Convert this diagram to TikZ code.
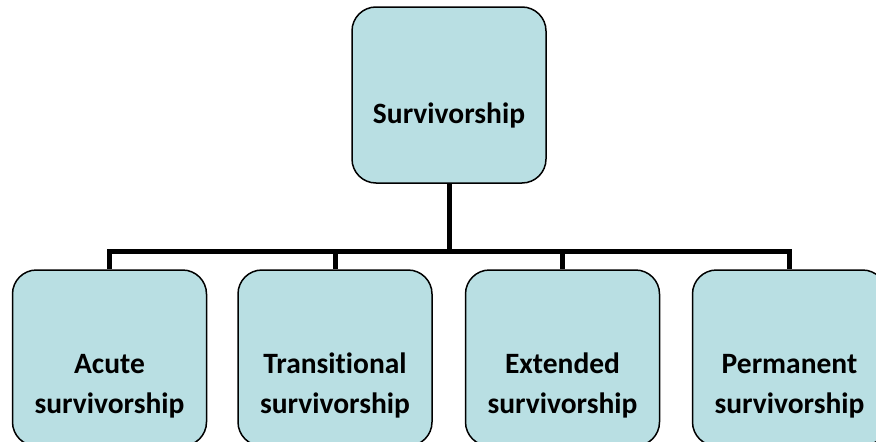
\documentclass[tikz,border=0pt]{standalone}
\usepackage{fontspec}
\setmainfont{Carlito}[RawFeature=-liga]
\definecolor{boxfill}{RGB}{185,223,227}
\begin{document}
\begin{tikzpicture}[x=1pt,y=-1pt,
  box/.style={draw=black, line width=1.5pt, fill=boxfill, rounded corners=24pt,
    minimum width=194pt, minimum height=176pt, inner sep=0pt},
  lbl/.style={font=\bfseries\fontsize{29.5}{40}\selectfont, anchor=base,
    inner sep=0pt, align=center},
  busline/.style={line width=5pt, line join=miter}]
\useasboundingbox (0,0) rectangle (876,442);
\clip (0,0) rectangle (876,442);
\node[box] (top) at (449,95) {};
\node[box] (c1) at (109.5,358) {};
\node[box] (c2) at (335,358) {};
\node[box] (c3) at (562.5,358) {};
\node[box] (c4) at (789.5,358) {};
\coordinate (bus) at (449,251);
\draw[busline] (top.south) -- (bus) -| (c1.north);
\draw[busline] (bus) -| (c2.north);
\draw[busline] (bus) -| (c3.north);
\draw[busline] (bus) -| (c4.north);
\node[lbl] (t0) at (449,123) {Survivorship};
\node[lbl] (t1) at (109.5,413) {Acute\\survivorship};
\node[lbl] (t2) at (335,413) {Transitional\\survivorship};
\node[lbl] (t3) at (562.5,413) {Extended\\survivorship};
\node[lbl] (t4) at (789.5,413) {Permanent\\survivorship};
\end{tikzpicture}
\end{document}
